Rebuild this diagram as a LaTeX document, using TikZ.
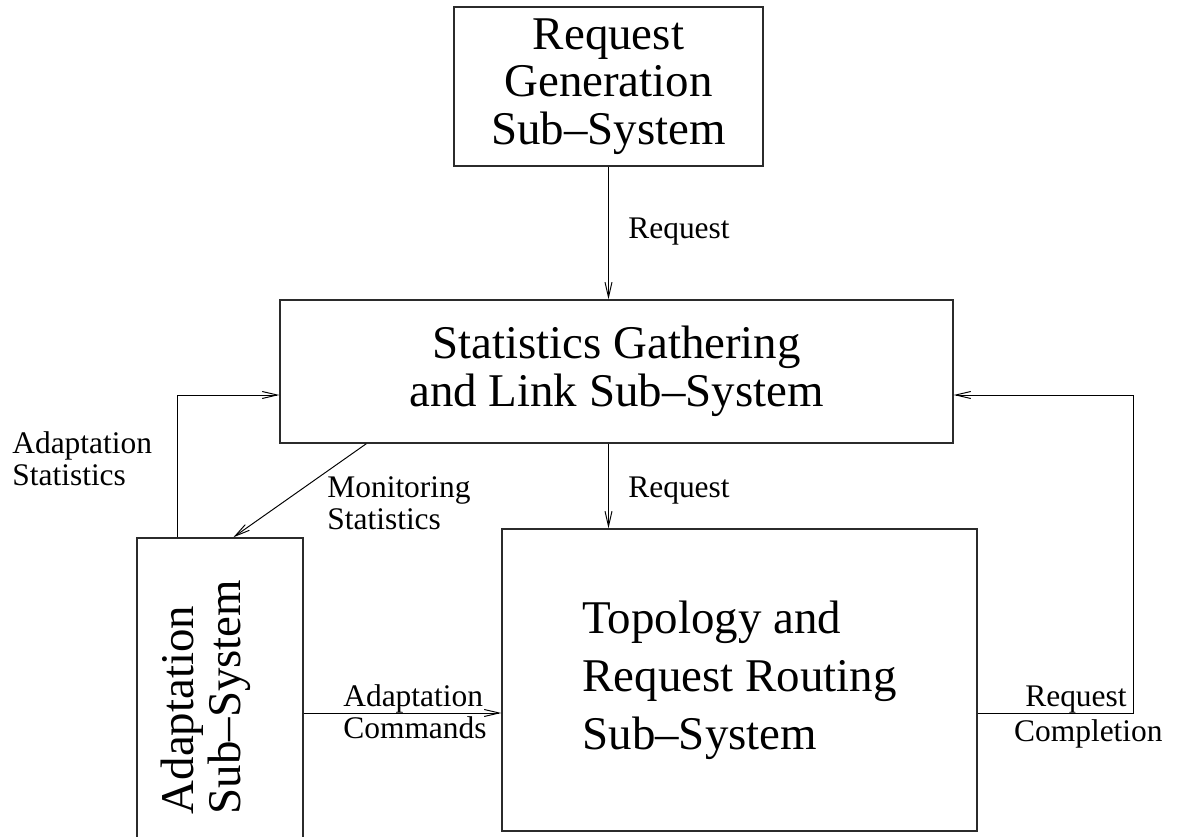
\documentclass[tikz,border=0pt]{standalone}
\usepackage{fontspec}
\setmainfont{Liberation Serif}
\usetikzlibrary{arrows.meta,calc,positioning}
\definecolor{ink}{HTML}{000000}
\definecolor{boxline}{HTML}{2B2B2B}
\tikzset{
  % ---- sub-system boxes ------------------------------------------
  subsys/.style  = {draw=boxline, line width=.8pt, inner sep=0pt,
                    align=center, font=\fontsize{26.7pt}{27pt}\selectfont},
  bigtxt/.style  = {inner sep=0pt, align=left,
                    font=\fontsize{26.7pt}{27pt}\selectfont},
  % ---- flows between sub-systems ---------------------------------
  flow/.style    = {draw=ink, line width=.55pt,
                    -{Straight Barb[length=3mm,width=1.4mm]}},
  flab/.style    = {inner sep=0pt, align=left,
                    font=\fontsize{17.9pt}{18.2pt}\selectfont},
}
\begin{document}
\begin{tikzpicture}[x=0.02cm,y=-0.02cm]
  \useasboundingbox (0,0) rectangle (1178,837);
  % boxes
  \node[subsys, minimum width=6.18cm, minimum height=3.18cm] (gen) at (608.5,86.5) {Request\\Generation\\Sub--System};
  \node[subsys, minimum width=13.46cm, minimum height=2.86cm] (stat) at (616.5,371.5) {Statistics Gathering\\and Link Sub--System};
  \node[subsys, minimum width=3.32cm, minimum height=6.14cm] (adapt) at (220,691.5) {};
  \node[bigtxt, rotate=90] (adapttxt) at (206,697) {Adaptation\\Sub--System};
  \node[subsys, align=left, font=\fontsize{26.7pt}{33pt}\selectfont,
        minimum width=9.5cm, minimum height=6.04cm] (topo) at (739.5,680) {Topology and\\Request Routing\\Sub--System};
  % bends of the feedback loops
  \coordinate (loopL) at (177,395);
  \coordinate (loopR) at (1133,395);
  \coordinate (cmdy) at (0,713);
  % flows
  \draw[flow] (gen.south) -- (gen.south |- stat.north);
  \draw[flow] (gen.south |- stat.south) -- (gen.south |- topo.north);
  \draw[flow] ($(stat.south west)+(87,0)$) -- ($(adapt.north west)+(97,0)$);
  \draw[flow] (adapt.north -| loopL) -- (loopL) -- (stat.west |- loopL);
  \draw[flow] (adapt.east |- cmdy) -- (topo.west |- cmdy);
  \draw[flow] (topo.east |- cmdy) -- (loopR |- cmdy) -- (loopR) -- (stat.east |- loopR);
  % labels
  \node[flab, anchor=west] (lreq1) at (628,232) {Request};
  \node[flab, anchor=west] (lreq2) at (628,491) {Request};
  \node[flab, anchor=west] (lmon) at (327,503.5) {Monitoring\\Statistics};
  \node[flab, anchor=west] (lads) at (12,458.5) {Adaptation\\Statistics};
  \node[flab, anchor=west] (lcmd) at (343,711.5) {Adaptation\\Commands};
  \node[flab, anchor=base east] (lcpl) at (1127,707) {Request};
  \node[flab, anchor=base east] (lcpl2) at (1163,742) {Completion};
\end{tikzpicture}
\end{document}
